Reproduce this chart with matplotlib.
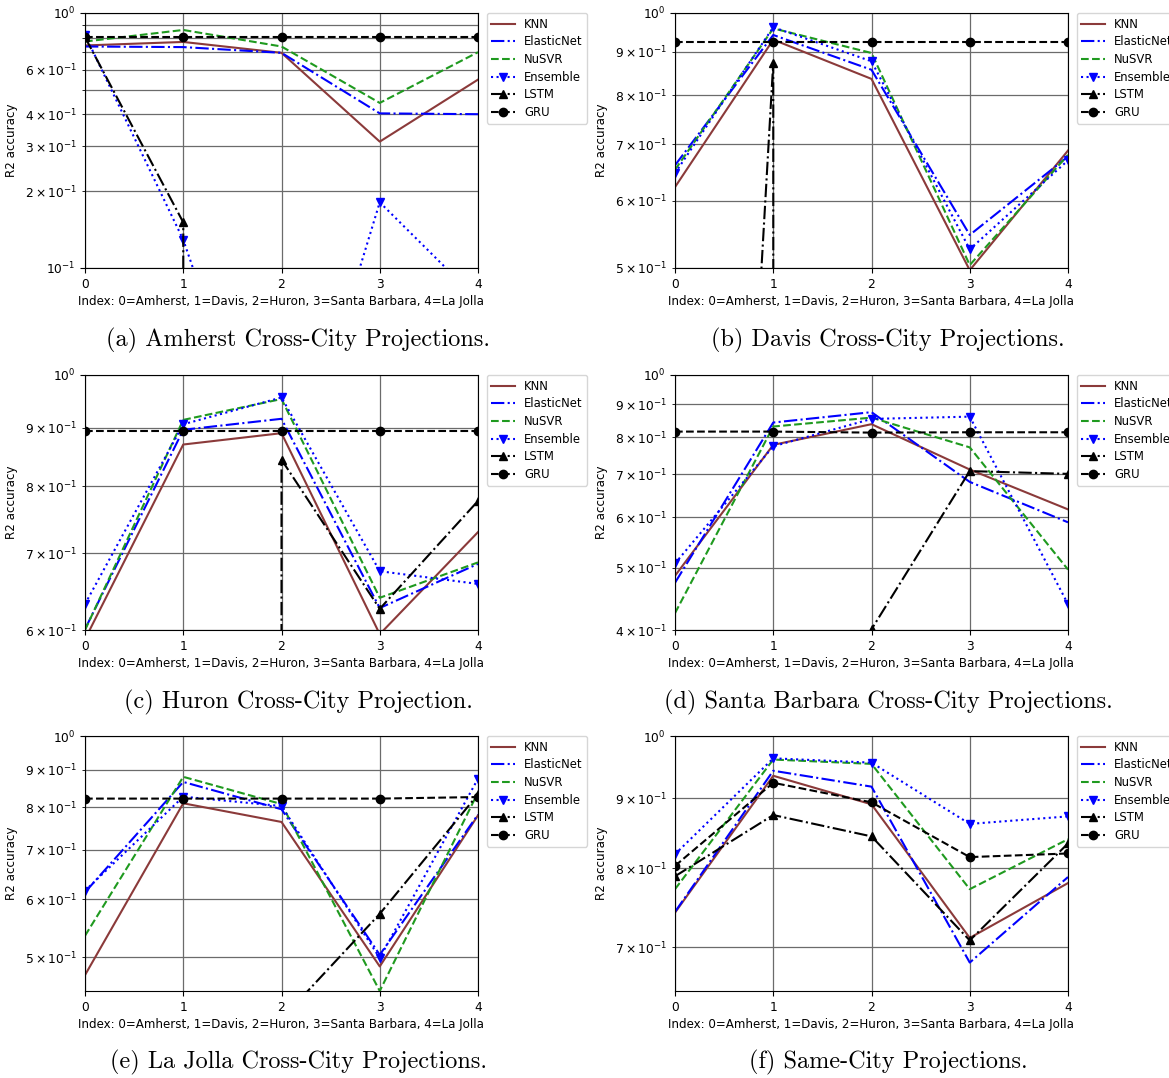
import matplotlib
matplotlib.use("Agg")
import matplotlib.pyplot as plt
import numpy as np

x_index = [0, 1, 2, 3, 4]
x_label = "Index: 0=Amherst, 1=Davis, 2=Huron, 3=Santa Barbara, 4=La Jolla"
y_label = "R2 accuracy"
models = ["KNN", "ElasticNet", "NuSVR", "Ensemble", "LSTM", "GRU"]

# (a) Amherst cross-city (negative R2 values fall off the log axis)
a_knn = [0.746, 0.770, 0.698, 0.313, 0.548]
a_enet = [0.739, 0.735, 0.698, 0.404, 0.401]
a_nusvr = [0.773, 0.858, 0.739, 0.444, 0.702]
a_ens = [0.821, 0.129, 0.0098, 0.181, 0.075]
a_lstm = [0.804, 0.151, -1.0, -1.0, -1.0]
a_gru = [0.804, 0.804, 0.804, 0.804, 0.804]

# (b) Davis cross-city
b_knn = [0.623, 0.930, 0.836, 0.497, 0.688]
b_enet = [0.661, 0.942, 0.857, 0.547, 0.677]
b_nusvr = [0.653, 0.959, 0.897, 0.504, 0.680]
b_ens = [0.647, 0.962, 0.877, 0.526, 0.670]
b_lstm = [0.0083, 0.874, -1.0, -1.0, -1.0]
b_gru = [0.924, 0.924, 0.924, 0.924, 0.924]

# (c) Huron cross-city
c_knn = [0.589, 0.870, 0.890, 0.595, 0.730]
c_enet = [0.601, 0.896, 0.916, 0.627, 0.685]
c_nusvr = [0.600, 0.914, 0.953, 0.640, 0.687]
c_ens = [0.632, 0.906, 0.956, 0.675, 0.658]
c_lstm = [-1.0, -1.0, 0.844, 0.626, 0.777]
c_gru = [0.893, 0.893, 0.893, 0.893, 0.893]

# (d) Santa Barbara cross-city
d_knn = [0.486, 0.778, 0.838, 0.712, 0.617]
d_enet = [0.474, 0.843, 0.875, 0.681, 0.589]
d_nusvr = [0.425, 0.831, 0.858, 0.771, 0.497]
d_ens = [0.508, 0.774, 0.854, 0.861, 0.439]
d_lstm = [-1.0, -1.0, 0.401, 0.708, 0.701]
d_gru = [0.816, 0.816, 0.813, 0.814, 0.814]

# (e) La Jolla cross-city
e_knn = [0.473, 0.810, 0.764, 0.486, 0.780]
e_enet = [0.613, 0.866, 0.795, 0.504, 0.782]
e_nusvr = [0.535, 0.880, 0.808, 0.450, 0.838]
e_ens = [0.616, 0.827, 0.803, 0.499, 0.875]
e_lstm = [-1.0, -1.0, 0.412, 0.573, 0.833]
e_gru = [0.822, 0.822, 0.822, 0.822, 0.826]

# (f) Same-city
f_knn = [0.742, 0.935, 0.891, 0.711, 0.780]
f_enet = [0.743, 0.943, 0.918, 0.682, 0.788]
f_nusvr = [0.772, 0.961, 0.954, 0.772, 0.840]
f_ens = [0.819, 0.963, 0.956, 0.862, 0.873]
f_lstm = [0.789, 0.875, 0.844, 0.708, 0.834]
f_gru = [0.803, 0.924, 0.894, 0.815, 0.820]

panels = [
    ([a_knn, a_enet, a_nusvr, a_ens, a_lstm, a_gru], 0.1, "(a) Amherst Cross-City Projections."),
    ([b_knn, b_enet, b_nusvr, b_ens, b_lstm, b_gru], 0.5, "(b) Davis Cross-City Projections."),
    ([c_knn, c_enet, c_nusvr, c_ens, c_lstm, c_gru], 0.6, "(c) Huron Cross-City Projection."),
    ([d_knn, d_enet, d_nusvr, d_ens, d_lstm, d_gru], 0.4, "(d) Santa Barbara Cross-City Projections."),
    ([e_knn, e_enet, e_nusvr, e_ens, e_lstm, e_gru], 0.45, "(e) La Jolla Cross-City Projections."),
    ([f_knn, f_enet, f_nusvr, f_ens, f_lstm, f_gru], 0.65, "(f) Same-City Projections."),
]

styles = [
    dict(color="#8b3a3a", linestyle="-"),
    dict(color="b", linestyle="-."),
    dict(color="#1f9a1f", linestyle="--"),
    dict(color="b", linestyle=":", marker="v"),
    dict(color="k", linestyle="-.", marker="^"),
    dict(color="k", linestyle="--", marker="o"),
]

W, H = 1169, 1078
fig = plt.figure(figsize=(W / 100, H / 100), dpi=100)
fig.patch.set_facecolor("white")

lefts = [85, 675]
tops = [13, 375, 736]
ax_w, ax_h = 393, 255
cap_x = [298, 888]
cap_y = [340, 702, 1062]

for i, (series, ybot, caption) in enumerate(panels):
    r, c = divmod(i, 2)
    ax = fig.add_axes([lefts[c] / W, 1 - (tops[r] + ax_h) / H, ax_w / W, ax_h / H])
    for name, vals, st in zip(models, series, styles):
        ax.plot(x_index, vals, label=name, linewidth=1.5, markersize=6, **st)
    ax.set_yscale("log")
    ax.set_ylim(ybot, 1.0)
    ax.set_xlim(0, 4)
    ax.set_xticks(x_index)
    ax.grid(True, which="both", color="0.42", linewidth=0.9)
    ax.set_axisbelow(True)
    ax.tick_params(labelsize=8.8)
    ax.tick_params(which="minor", labelsize=8.8)
    ax.set_xlabel(x_label, fontsize=8.6, labelpad=3)
    ax.set_ylabel(y_label, fontsize=8.6, labelpad=5)
    for sp in ax.spines.values():
        sp.set_color("black")
    ax.legend(loc="upper left", bbox_to_anchor=(1.022, 1.0), fontsize=8.4,
              numpoints=1, borderaxespad=0.0, handlelength=2.0, labelspacing=0.4)
    fig.text(cap_x[c] / W, 1 - cap_y[r] / H, caption, ha="center", va="center",
             fontsize=17.5, family="cmr10")

fig.savefig("out.png", dpi=100)
